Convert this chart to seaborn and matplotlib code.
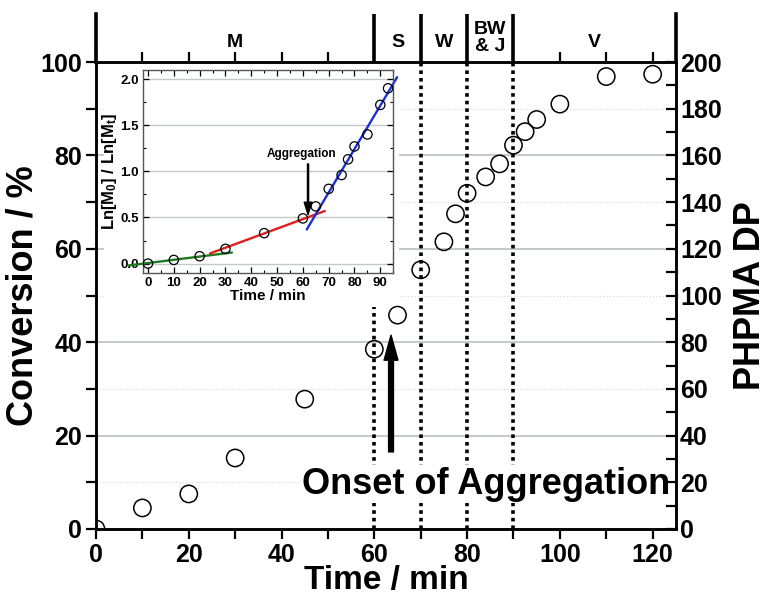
import matplotlib.pyplot as plt
import numpy as np
import pandas as pd
import seaborn as sns
from matplotlib.ticker import MultipleLocator


################################
# DATA
################################
# conversion vs time (main plot)
time_min = [0, 10, 20, 30, 45, 60, 65, 70, 75, 77.5, 80, 84, 87, 90, 92.5, 95, 100, 110, 120]
conversion = [0, 4.5, 7.5, 15.2, 27.8, 38.5, 45.8, 55.5, 61.5, 67.5, 71.9, 75.4, 78.2, 82.2, 85.1, 87.7, 91, 96.9, 97.4]

# first order plot (inset)
inset_time = [0, 10, 20, 30, 45, 60, 65, 70, 75, 77.5, 80, 85, 90, 93]
inset_ln = [0, 0.04, 0.08, 0.16, 0.33, 0.49, 0.62, 0.81, 0.96, 1.13, 1.27, 1.40, 1.72, 1.90]

# linear fits shown in the inset
fit_green_x = [-7.5, 32.5]
fit_green_y = [-0.02, 0.12]
fit_red_x = [24, 68.5]
fit_red_y = [0.11, 0.57]
fit_blue_x = [61.5, 96.5]
fit_blue_y = [0.37, 2.02]

# morphology regions
phase_edges = [60, 70, 80, 90]
phase_centers = [30, 65, 75, 85, 107.5]
phase_labels = ['M', 'S', 'W', 'BW\n& J', 'V']


sns.set_style("ticks")
plt.rcParams['font.family'] = ['Liberation Sans', 'DejaVu Sans']
plt.rcParams['font.weight'] = 'bold'
plt.rcParams['text.color'] = 'black'
plt.rcParams['axes.labelcolor'] = 'black'
plt.rcParams['xtick.color'] = 'black'
plt.rcParams['ytick.color'] = 'black'
plt.rcParams['mathtext.fontset'] = 'custom'
plt.rcParams['mathtext.rm'] = 'Liberation Sans:bold'
plt.rcParams['mathtext.it'] = 'Liberation Sans:bold'
plt.rcParams['mathtext.bf'] = 'Liberation Sans:bold'

fig = plt.figure(figsize=(7.68, 5.97), dpi=100)
ax = fig.add_axes([0.125, 0.114, 0.755, 0.782])
band = fig.add_axes([0.125, 0.896, 0.755, 0.08])
inset = fig.add_axes([0.186, 0.543, 0.326, 0.340])

################################
# MAIN PLOT
################################
df = pd.DataFrame({'Time': time_min, 'Conversion': conversion})

ax.yaxis.set_major_locator(MultipleLocator(20))
ax.yaxis.set_minor_locator(MultipleLocator(10))
ax.xaxis.set_major_locator(MultipleLocator(20))
ax.xaxis.set_minor_locator(MultipleLocator(10))
ax.grid(False)
ax.yaxis.grid(True, which='major', color='#b4bcbc', lw=1.1, zorder=0)
ax.yaxis.grid(True, which='minor', color='#d8dcdc', lw=0.9, ls=':', zorder=0)

for e in phase_edges:
    ax.axvline(e, ymax=0.475 if e == 60 else 1, color='black', lw=2.6, ls=(0, (1, 1.1)), zorder=1)

sns.scatterplot(data=df, x='Time', y='Conversion', ax=ax, s=155, marker='o',
                facecolor='none', edgecolor='black', linewidth=1.1, zorder=3)

ax.set_xlim(0, 125)
ax.set_ylim(0, 100)
ax.set_xlabel('Time / min', fontsize=24, fontweight='bold', labelpad=-1)
ax.set_ylabel('Conversion / %', fontsize=26, fontweight='bold', labelpad=0)
ax.tick_params(axis='both', which='major', labelsize=18, width=1.6, length=7, direction='out', pad=3)
ax.tick_params(axis='both', which='minor', width=1.6, length=7, direction='out')
ax.tick_params(axis='x', which='both', top=True, bottom=True)
for s in ax.spines.values():
    s.set_linewidth(1.8)
    s.set_color('black')

ax.annotate('', xy=(63.6, 41.5), xytext=(63.6, 16.5),
            arrowprops=dict(facecolor='black', edgecolor='black', width=3.5,
                            headwidth=10, headlength=18, shrink=0), zorder=4)
ax.text(84, 9.6, 'Onset of Aggregation', fontsize=26, fontweight='bold', ha='center', va='center',
        bbox=dict(facecolor='white', edgecolor='none', pad=1), zorder=5)

# right axis: degree of polymerisation
ax2 = ax.twinx()
ax2.set_ylim(0, 200)
ax2.yaxis.set_major_locator(MultipleLocator(20))
ax2.yaxis.set_minor_locator(MultipleLocator(10))
ax2.set_ylabel('PHPMA DP', fontsize=26, fontweight='bold', labelpad=8)
ax2.tick_params(axis='y', which='major', labelsize=18, width=1.6, length=7, direction='in', pad=3)
ax2.tick_params(axis='y', which='minor', width=1.6, length=7, direction='in')
for s in ax2.spines.values():
    s.set_linewidth(1.8)
    s.set_color('black')

################################
# MORPHOLOGY BAND
################################
band.set_xlim(0, 125)
band.set_ylim(0, 1)
band.set_xticks([])
band.set_yticks([])
band.spines['top'].set_visible(False)
band.spines['bottom'].set_visible(False)
band.spines['left'].set_linewidth(2.6)
band.spines['right'].set_linewidth(2.6)
band.spines['left'].set_color('black')
band.spines['right'].set_color('black')
band.patch.set_alpha(0)
for e in phase_edges:
    band.axvline(e, color='black', lw=2.6)
for c, lab in zip(phase_centers, phase_labels):
    band.text(c, 0.42 if '\n' not in lab else 0.5, lab, ha='center', va='center',
              fontsize=14, fontweight='bold', linespacing=1.0)

################################
# INSET
################################
df_in = pd.DataFrame({'Time': inset_time, 'Ln': inset_ln})
inset.set_zorder(6)
inset.set_facecolor('white')
inset.set_xlim(-2, 95)
inset.set_ylim(-0.1, 2.1)
inset.xaxis.set_major_locator(MultipleLocator(10))
inset.xaxis.set_minor_locator(MultipleLocator(5))
inset.yaxis.set_major_locator(MultipleLocator(0.5))
inset.yaxis.set_minor_locator(MultipleLocator(0.25))
inset.grid(False)
inset.yaxis.grid(True, which='major', color='#c4caca', lw=1.0)

sns.lineplot(x=fit_green_x, y=fit_green_y, ax=inset, color='#1e7a1e', lw=1.7)
sns.lineplot(x=fit_red_x, y=fit_red_y, ax=inset, color='#e01e1e', lw=1.7)
sns.lineplot(x=fit_blue_x, y=fit_blue_y, ax=inset, color='#1c2ed8', lw=1.7)
for l in inset.get_lines():
    l.set_clip_on(False)

sns.scatterplot(data=df_in, x='Time', y='Ln', ax=inset, s=45, marker='o',
                facecolor='none', edgecolor='black', linewidth=0.9, zorder=3)

inset.annotate('', xy=(62, 0.53), xytext=(62, 1.08),
               arrowprops=dict(facecolor='black', edgecolor='black', width=0.8,
                               headwidth=5.5, headlength=9, shrink=0))
inset.text(59.5, 1.19, 'Aggregation', fontsize=8.5, fontweight='bold', ha='center', va='center')

inset.set_xlabel('Time / min', fontsize=11, fontweight='bold', labelpad=0)
inset.set_ylabel(r'Ln[M$_0$] / Ln[M$_t$]', fontsize=12, fontweight='bold', labelpad=1)
inset.tick_params(axis='both', which='major', labelsize=9.5, direction='in', length=4, width=0.9,
                  top=True, right=True, pad=3)
inset.tick_params(axis='both', which='minor', direction='in', length=2.5, width=0.8,
                  top=True, right=True)
for s in inset.spines.values():
    s.set_linewidth(1.0)
    s.set_color('#555555')

# white patch behind inset tick labels
bg = plt.Rectangle((0.135, 0.49), 0.385, 0.40, transform=fig.transFigure,
                   facecolor='white', edgecolor='none', zorder=5.5)
fig.patches.append(bg)

plt.savefig('out.png', dpi=100)
